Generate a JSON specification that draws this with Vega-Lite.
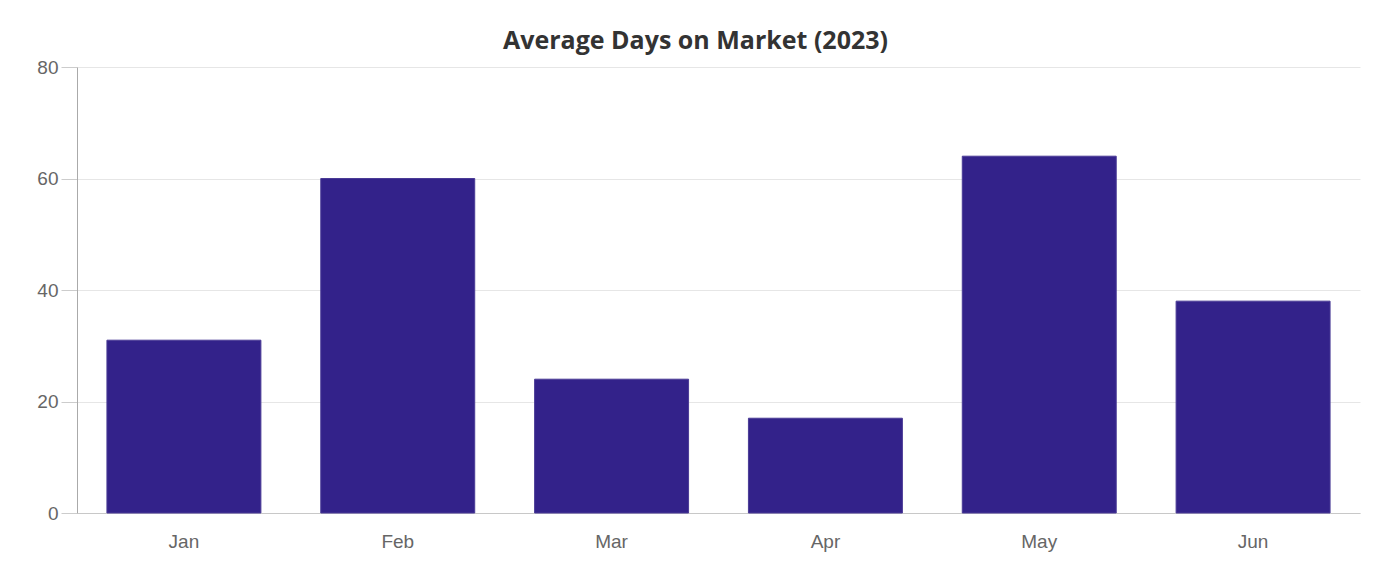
{
  "$schema": "https://vega.github.io/schema/vega-lite/v6.json",
  "width": 1283,
  "height": 446,
  "autosize": {"type": "none"},
  "padding": {"left": 77, "top": 67, "right": 30, "bottom": 70},
  "background": "white",
  "title": {
    "text": "Average Days on Market (2023)",
    "font": "Open Sans",
    "fontSize": 25,
    "fontWeight": "bold",
    "color": "#333333",
    "anchor": "middle",
    "dx": -23,
    "offset": 4
  },
  "data": {
    "values": [
      {"month": "Jan", "days": 31},
      {"month": "Feb", "days": 60},
      {"month": "Mar", "days": 24},
      {"month": "Apr", "days": 17},
      {"month": "May", "days": 64},
      {"month": "Jun", "days": 38}
    ]
  },
  "mark": {"type": "bar", "color": "#33228a", "stroke": "#4a3b96", "strokeWidth": 1},
  "encoding": {
    "x": {
      "field": "month",
      "type": "nominal",
      "sort": null,
      "title": null,
      "scale": {"paddingInner": 0.28, "paddingOuter": 0.14},
      "axis": {
        "labelAngle": 0,
        "ticks": false,
        "labelPadding": 19,
        "domainColor": "#c8c8c8",
        "labelFont": "Liberation Sans",
        "labelFontSize": 19,
        "labelColor": "#666666",
        "grid": false
      }
    },
    "y": {
      "field": "days",
      "type": "quantitative",
      "title": null,
      "scale": {"domain": [0, 80]},
      "axis": {
        "values": [0, 20, 40, 60, 80],
        "tickSize": 16,
        "tickColor": "#cccccc",
        "labelPadding": 3,
        "domainColor": "#aaaaaa",
        "gridColor": "#e6e6e6",
        "labelFont": "Liberation Sans",
        "labelFontSize": 19,
        "labelColor": "#666666"
      }
    }
  },
  "config": {"view": {"stroke": null}}
}
